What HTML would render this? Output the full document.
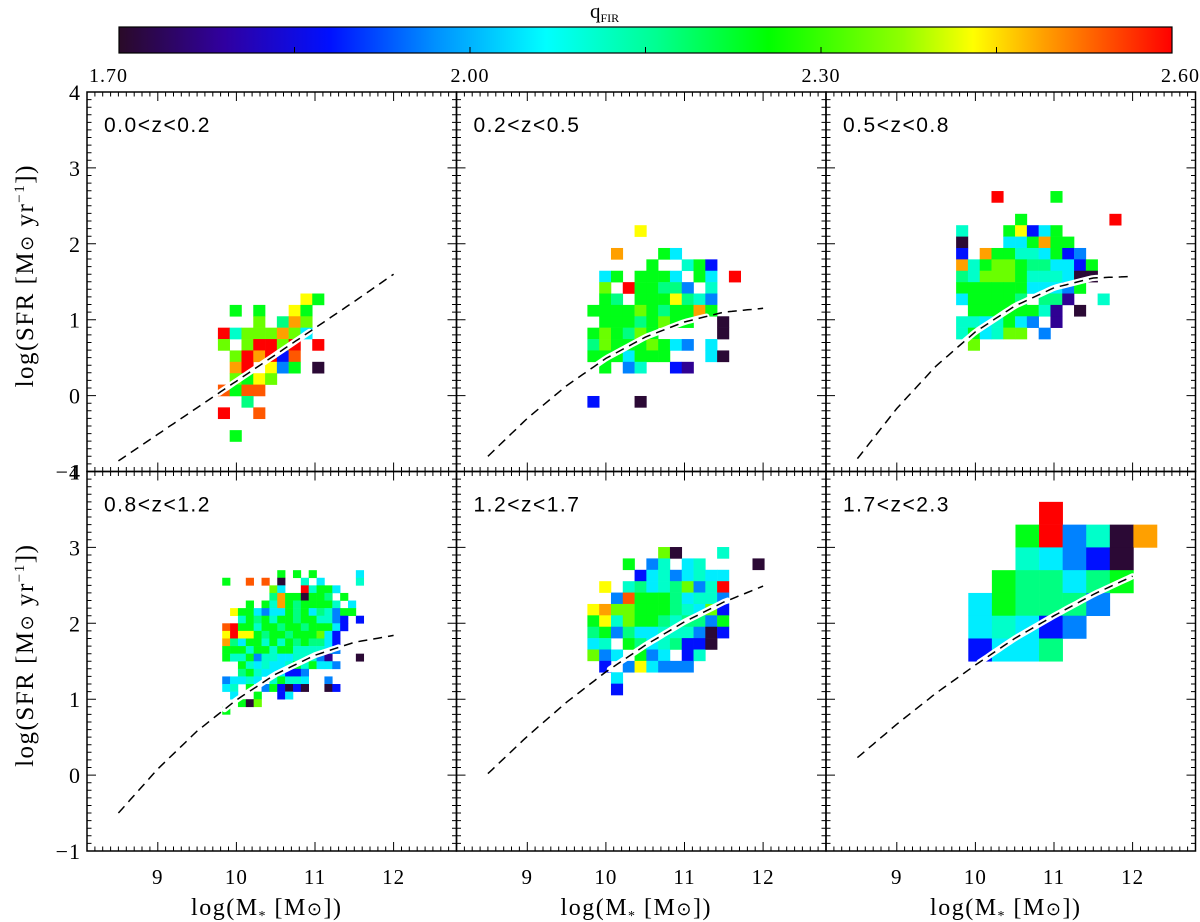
<!DOCTYPE html>
<html><head><meta charset="utf-8"><title>qFIR SFR-Mstar</title>
<style>
html,body{margin:0;padding:0;background:#fff;}
svg{display:block;}
.t{font-family:"Liberation Serif","DejaVu Serif",serif;fill:#000;}
.s{font-family:"Liberation Sans","DejaVu Sans",sans-serif;fill:#000;}
</style></head>
<body>
<svg id="fig" width="1200" height="922" viewBox="0 0 1200 922" xmlns="http://www.w3.org/2000/svg">
<defs>
<linearGradient id="cbgrad" x1="0" x2="1" y1="0" y2="0"></linearGradient>
</defs>
<g id="colorbar"></g>
<g id="panels"></g>
</svg>
<script>
// ---------- data ----------
const qCodes = ["k","p","b","l","c","a","s","g","y","Y","o","O","r"];
const qValues = [1.71,1.78,1.88,1.96,2.05,2.11,2.17,2.24,2.34,2.43,2.49,2.54,2.60];
const cbStopsQ = [1.70,1.79,1.88,1.97,2.065,2.16,2.255,2.37,2.43,2.49,2.60];
const cbStopsColor = ["#2a0a28","#3000a0","#0010ff","#0090ff","#00ffff","#00ff90","#00ff00","#90ff00","#ffff00","#ffa000","#ff0000"];
const cbTickLabels = ["1.70","2.00","2.30","2.60"];
const cbTickValues = [1.70,2.00,2.30,2.60];
const cbMinorTicks = [2.15,2.45,1.85];
const panelLabels = ["0.0<z<0.2","0.2<z<0.5","0.5<z<0.8","0.8<z<1.2","1.2<z<1.7","1.7<z<2.3"];
const xTickLabels = ["9","10","11","12"];
const xTickValues = [9,10,11,12];
const yTickValues = [4,3,2,1,0,-1];
const yTickLabels = ["4","3","2","1","0","\u22121"];
const binX0 = [9.84,9.84,9.83,9.87,9.84,10.06];
const binY0 = [1.27,2.17,2.62,2.65,2.93,3.45];
const binStep = [0.15,0.15,0.15,0.10,0.15,0.30];
const grid1 = [".......Yg",".g.g..Yg.","...y.soy.","rayyyoyc.","y.yrryr.r",".yrorbO..",".or.Ylg.k",".ygYy....","OgOO.....","..s......","r..O.....",".........",".g......."];
const grid2 = ["....Y........",".............","..o...gc.....",".....g..agb..",".cg.gggc.gc.r",".y.rggssl.a..",".gs.gggYsal..","ggggygsggog..",".gggsgygg..k.","gygsyg.....k.","sygggygcl.c..","gggcggg...ck.",".g.la..bp....",".............",".............","b...k........"];
const grid3 = ["...r....g.....","..............",".....g.......r","a...gYbcg.....","k...ccgogg....","b.oggaacgbl...","oagyygssccbg..","sayyygaaackk..","ggggggccclg...","cggggs.ssp..a.",".ggggggap.k...","aacagcl.p.....","agcayy.l......",".y............"];
const grid4 = [".......g.g.g.....c","g..O.O.k..a.c....a","......yc..raggc...","......soggkggs.g..","...g.gaogsgggga.c.",".Yggclccgsgcsalgg.","..agsgaggsggaalb.b","Orggaggsggsgggcb..","YrYYgsggsgggycb...","oscggagagsgsscb...","gggaggaggaaaacl...","gaaglaaccaaalp...k","..gacaccagagccl...","..sgacccbbl.......","lccac.agaac..l....","ca.g.lgbkbk..kb...",".c..g..bc.........","..gky.............","g................."];
const grid5 = ["......yk...a...","...g.la.ca....k","....bcalcacc...",".Y.ascasylar...","..lOgggscaal...","Yoyygggsacyb...","gYayggsasslg...","sglsccaaalkb...","ca.gscasbbk....","ylc.glc.ba.....",".b.lYclll......","..c............","..b............"];
const grid6 = ["...r....","..grlako","..aclbk.",".gsscsg.","cgsssl..","cacbl...","bccs...."];
const grids = [grid1,grid2,grid3,grid4,grid5,grid6];
const msX = [8.5,9.0,9.5,10.0,10.5,11.0,11.5,12.0];
const ms1 = [-0.86,-0.51,-0.16,0.19,0.54,0.89,1.24,1.60];
const ms2 = [-0.80,-0.30,0.13,0.49,0.77,0.97,1.10,1.15];
const ms3 = [-0.83,-0.17,0.39,0.84,1.18,1.42,1.55,1.57];
const ms4 = [-0.50,0.08,0.58,0.99,1.33,1.58,1.75,1.84];
const ms5 = [0.02,0.51,0.96,1.36,1.71,2.02,2.28,2.49];
const ms6 = [0.23,0.67,1.08,1.45,1.80,2.10,2.38,2.62];
const msY = [ms1,ms2,ms3,ms4,ms5,ms6];
const whiteStart = [9.78,9.78,9.78,9.85,10.05,10.05];
const whiteEnd = [10.95,11.3,11.6,11.3,11.55,12.0];

// ---------- geometry ----------
const NS = "http://www.w3.org/2000/svg";
const svg = document.getElementById("fig");
const panelsG = document.getElementById("panels");
const cbG = document.getElementById("colorbar");
const PX0 = [87,456.5,826], PW = 369.5;
const PY0 = [92,471.5], PH = 379.5;
const XMIN = 8.1, XMAX = 12.8, YMIN = -1, YMAX = 4;
function X(p, v){ return PX0[p%3] + (v-XMIN)/(XMAX-XMIN)*PW; }
function Y(p, v){ return PY0[Math.floor(p/3)] + (YMAX-v)/(YMAX-YMIN)*PH; }
function mk(tag, attrs, parent){ const e=document.createElementNS(NS,tag); for(const k in attrs) e.setAttribute(k,attrs[k]); (parent||svg).appendChild(e); return e; }
function hex2rgb(h){ return [parseInt(h.substr(1,2),16),parseInt(h.substr(3,2),16),parseInt(h.substr(5,2),16)]; }
function cmap(q){
  if(q<=cbStopsQ[0]) return cbStopsColor[0];
  for(let i=1;i<cbStopsQ.length;i++){
    if(q<=cbStopsQ[i]){
      const t=(q-cbStopsQ[i-1])/(cbStopsQ[i]-cbStopsQ[i-1]);
      const a=hex2rgb(cbStopsColor[i-1]), b=hex2rgb(cbStopsColor[i]);
      return "rgb("+a.map((v,j)=>Math.round(v+(b[j]-v)*t)).join(",")+")";
    }
  }
  return cbStopsColor[cbStopsColor.length-1];
}

// ---------- colorbar ----------
const CBX0=119, CBX1=1172, CBY0=27, CBY1=53, QMIN=1.70, QMAX=2.60;
function CX(q){ return CBX0 + (q-QMIN)/(QMAX-QMIN)*(CBX1-CBX0); }
const grad = document.getElementById("cbgrad");
cbStopsQ.forEach((q,i)=>{ mk("stop",{offset:((q-QMIN)/(QMAX-QMIN)).toFixed(4),"stop-color":cbStopsColor[i]},grad); });
const cbRect = mk("rect",{x:CBX0,y:CBY0,width:CBX1-CBX0,height:CBY1-CBY0,fill:"url(#cbgrad)",stroke:"#000","stroke-width":1.2},cbG);


cbTickValues.concat(cbMinorTicks).forEach(q=>{
  const t=mk("line",{x1:CX(q),x2:CX(q),y1:CBY1,y2:CBY1-6,stroke:"#000","stroke-width":1},cbG);
  
  
});
cbTickLabels.forEach((l,i)=>{
  const anchor = i===0?"start":(i===cbTickLabels.length-1?"end":"middle");
  const xx = i===0?CX(cbTickValues[i])-30:(i===cbTickLabels.length-1?CX(cbTickValues[i])+28:CX(cbTickValues[i]));
  const t=mk("text",{x:xx,y:82,"font-size":20,"letter-spacing":"1","text-anchor":anchor,class:"t"},cbG);
  t.textContent=l;
  
  
});
const cbt=mk("text",{x:590,y:18,"font-size":21,class:"t"},cbG);
cbt.innerHTML='q<tspan font-size="12" dy="4">FIR</tspan>';



// ---------- panels ----------
for(let p=0;p<6;p++){
  const g=mk("g",{},panelsG);
  
  
  const cellsG=mk("g",{},g);
  
  
  const grid=grids[p], st=binStep[p];
  grid.forEach((row,j)=>{
    for(let i=0;i<row.length;i++){
      const k=qCodes.indexOf(row[i]); if(k<0) continue;
      const cx=binX0[p]+i*st, cy=binY0[p]-j*st;
      const x1=X(p,cx-st/2), x2=X(p,cx+st/2), y1=Y(p,cy+st/2), y2=Y(p,cy-st/2);
      const r=mk("rect",{x:x1.toFixed(2),y:y1.toFixed(2),width:(x2-x1+0.3).toFixed(2),height:(y2-y1+0.3).toFixed(2),fill:cmap(qValues[k])},cellsG);
      
      
    }
  });
  const ys=msY[p];
  function interp(v){ for(let i=1;i<msX.length;i++){ if(v<=msX[i]){ const t=(v-msX[i-1])/(msX[i]-msX[i-1]); return ys[i-1]+(ys[i]-ys[i-1])*t; } } return ys[ys.length-1]; }
  let wd="";
  for(let v=whiteStart[p]; v<=whiteEnd[p]+1e-6; v+=0.05){ wd+=(wd?"L":"M")+X(p,v).toFixed(1)+","+Y(p,interp(v)).toFixed(1); }
  const wl=mk("path",{d:wd,fill:"none",stroke:"#fff","stroke-width":6,"stroke-linecap":"round"},g);
  
  
  let dd="";
  for(let v=msX[0]; v<=msX[msX.length-1]+1e-6; v+=0.05){ dd+=(dd?"L":"M")+X(p,v).toFixed(1)+","+Y(p,interp(v)).toFixed(1); }
  const dl=mk("path",{d:dd,fill:"none",stroke:"#000","stroke-width":1.5,"stroke-dasharray":"9 6"},g);
  
  
  const fr=mk("rect",{x:PX0[p%3],y:PY0[Math.floor(p/3)],width:PW,height:PH,fill:"none",stroke:"#000","stroke-width":1.5},g);
  
  
  const tg=mk("g",{stroke:"#000","stroke-width":1},g);
  
  
  const top=PY0[Math.floor(p/3)], bot=top+PH, lft=PX0[p%3], rgt=lft+PW;
  let td="";
  for(let n=82;n<=128;n++){ const v=n/10; const xx=X(p,v); const L=(n%10===0)?9:4.5; td+="M"+xx.toFixed(1)+","+bot+"v-"+L+"M"+xx.toFixed(1)+","+top+"v"+L; }
  for(let n=-10;n<=40;n++){ const v=n/10; const yy=Y(p,v); const L=(n%10===0)?9:4.5; td+="M"+lft+","+yy.toFixed(1)+"h"+L+"M"+rgt+","+yy.toFixed(1)+"h-"+L; }
  mk("path",{d:td,fill:"none"},tg);
  const pl=mk("text",{x:lft+17,y:top+40,"font-size":21,"letter-spacing":"1.5",class:"s"},g);
  pl.textContent=panelLabels[p];
  
  
  if(p%3===0){
    yTickValues.forEach((v,i)=>{
      const t=mk("text",{x:lft-6,y:(Y(p,v)+8).toFixed(1),"font-size":22,"letter-spacing":"1","text-anchor":"end",class:"t"},g);
      t.textContent=yTickLabels[i];
      
      
    });
    const yt=mk("text",{x:0,y:0,"font-size":25,"letter-spacing":"1.5","text-anchor":"middle",class:"t",transform:"translate(33,"+(top+PH/2-6)+") rotate(-90)"},g);
    yt.innerHTML='log(SFR [M<tspan font-family="DejaVu Sans" font-size="18">\u2299</tspan> yr<tspan font-size="15" dy="-9">\u22121</tspan><tspan dy="9">])</tspan>';
    
    
  }
  if(p>=3){
    xTickValues.forEach((v,i)=>{
      const t=mk("text",{x:X(p,v).toFixed(1),y:bot+33,"font-size":21,"letter-spacing":"1","text-anchor":"middle",class:"t"},g);
      t.textContent=xTickLabels[i];
      
      
    });
    const xt=mk("text",{x:lft+PW/2-5,y:bot+64,"font-size":24,"letter-spacing":"1.5","text-anchor":"middle",class:"t"},g);
    xt.innerHTML='log(M<tspan font-size="14" dy="5">*</tspan><tspan dy="-5"> [M</tspan><tspan font-family="DejaVu Sans" font-size="18">\u2299</tspan>])';
    
    
  }
}
</script>
</body></html>
